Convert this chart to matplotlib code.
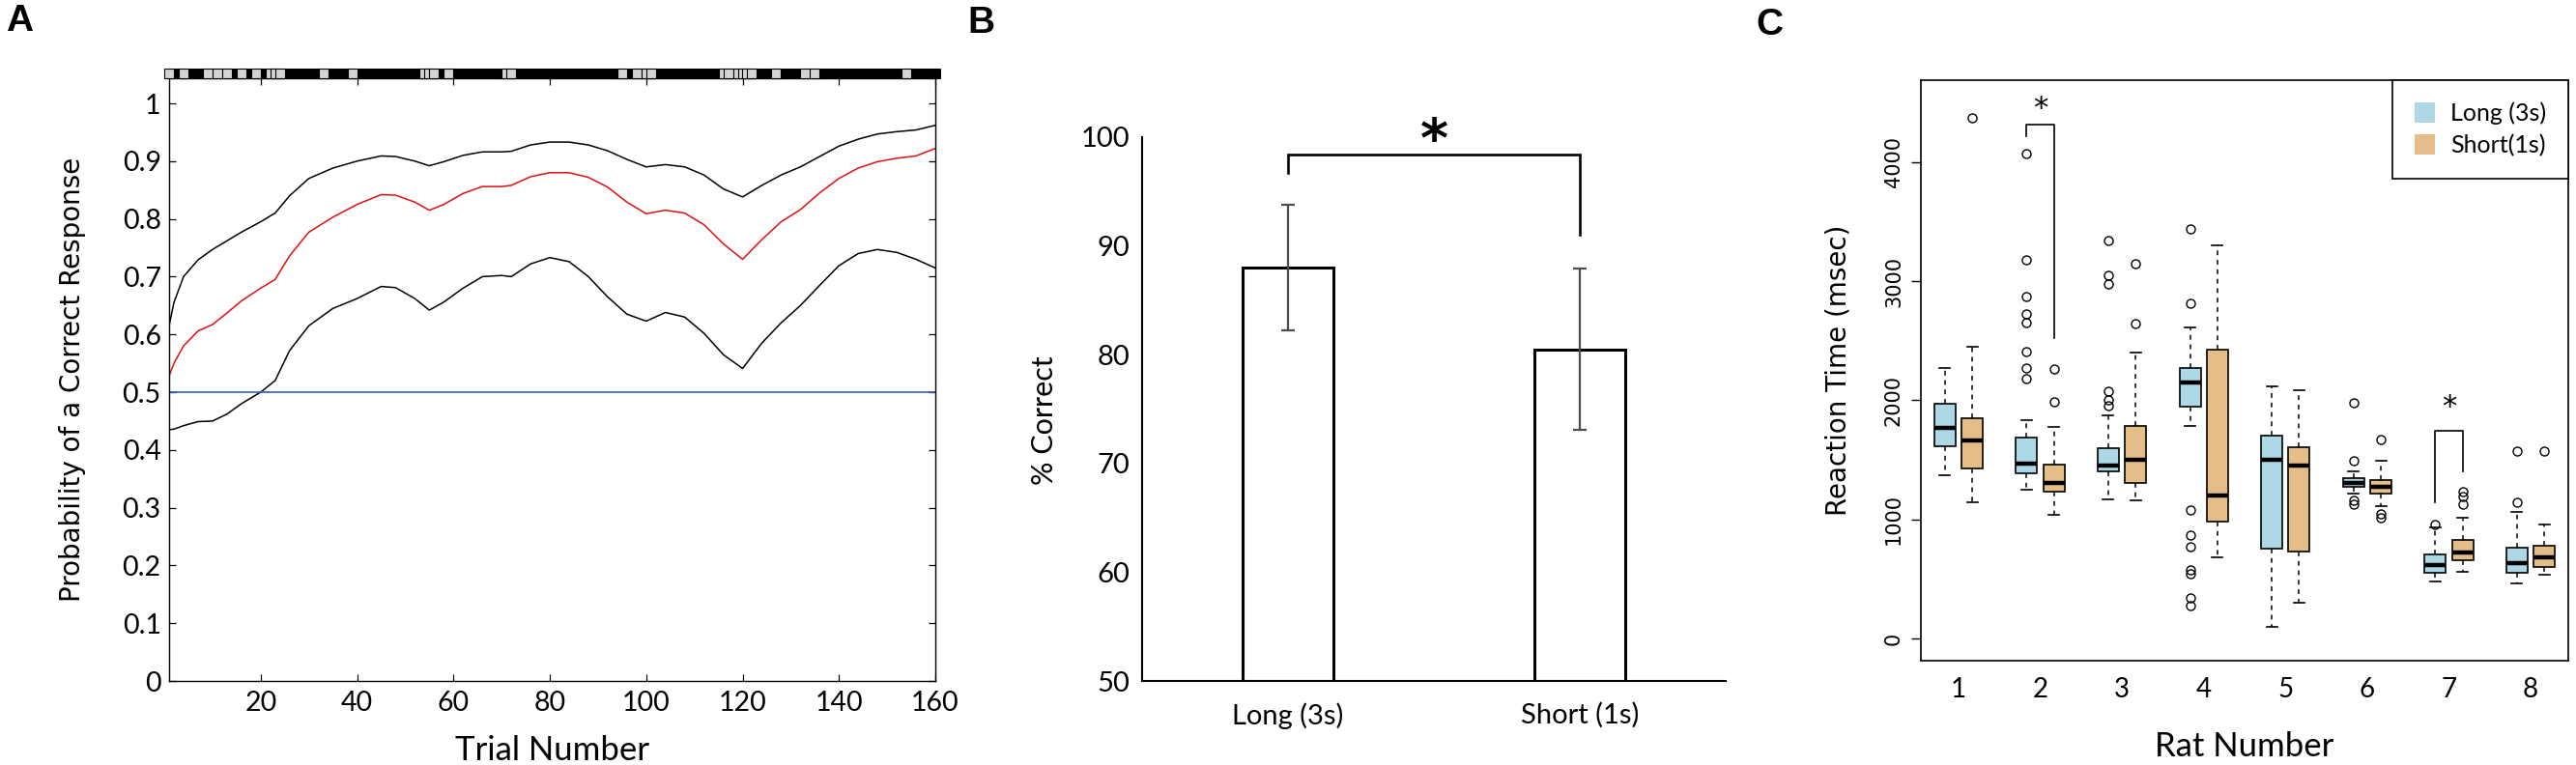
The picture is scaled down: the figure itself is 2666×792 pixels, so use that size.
import matplotlib
matplotlib.use("Agg")
import matplotlib.pyplot as plt
from matplotlib.patches import Patch

# ---------------- data ----------------
# Panel A: state-space learning curve
trials = [1, 2, 4, 7, 10, 13, 16, 20, 23, 26, 30, 35, 40, 45, 48, 52, 55, 58, 62, 66, 70, 72,
          76, 80, 84, 88, 92, 96, 100, 104, 108, 112, 116, 120, 124, 128, 132, 136, 140, 144,
          148, 152, 156, 160]
upper_ci = [0.615, 0.655, 0.700, 0.729, 0.747, 0.762, 0.777, 0.795, 0.810, 0.840, 0.870, 0.888,
            0.900, 0.909, 0.908, 0.900, 0.892, 0.899, 0.910, 0.916, 0.916, 0.917, 0.928, 0.933,
            0.933, 0.928, 0.918, 0.903, 0.890, 0.894, 0.890, 0.876, 0.852, 0.838, 0.858, 0.876,
            0.890, 0.908, 0.926, 0.938, 0.947, 0.951, 0.954, 0.962]
mean_p = [0.528, 0.550, 0.580, 0.606, 0.617, 0.637, 0.658, 0.680, 0.695, 0.736, 0.777, 0.803,
          0.825, 0.842, 0.841, 0.829, 0.815, 0.825, 0.844, 0.856, 0.856, 0.858, 0.873, 0.880,
          0.880, 0.872, 0.855, 0.829, 0.809, 0.815, 0.810, 0.790, 0.757, 0.730, 0.764, 0.795,
          0.816, 0.845, 0.870, 0.888, 0.899, 0.905, 0.909, 0.922]
lower_ci = [0.435, 0.436, 0.442, 0.449, 0.450, 0.462, 0.480, 0.500, 0.520, 0.572, 0.615, 0.645,
            0.662, 0.683, 0.681, 0.662, 0.642, 0.656, 0.680, 0.700, 0.702, 0.700, 0.722, 0.733,
            0.726, 0.700, 0.665, 0.635, 0.623, 0.638, 0.630, 0.602, 0.565, 0.541, 0.585, 0.620,
            0.650, 0.685, 0.719, 0.740, 0.747, 0.742, 0.730, 0.715]
chance_level = 0.5
n_trials = 160
incorrect_trials = [1, 4, 9, 11, 13, 16, 19, 22, 23, 24, 33, 39, 54, 55, 56, 59, 71, 72,
                    95, 98, 100, 101, 116, 117, 119, 120, 121, 122, 127, 133, 135, 154]

# Panel B: % correct
b_labels = ["Long (3s)", "Short (1s)"]
b_means = [88.0, 80.5]
b_err = [5.8, 7.4]
b_bracket = [96.7, 98.4, 91.0]   # left leg bottom, top, right leg bottom

# Panel C: reaction time box plots (whislo, q1, med, q3, whishi, fliers)
rats = [1, 2, 3, 4, 5, 6, 7, 8]
long_stats = [
    (1375, 1612, 1770, 1968, 2271, []),
    (1249, 1391, 1470, 1688, 1830, [4073, 3180, 2874, 2726, 2653, 2410, 2274, 2186]),
    (1170, 1407, 1454, 1596, 1871, [3338, 3047, 2975, 2076, 2006, 1959]),
    (1785, 1943, 2148, 2274, 2615, [3438, 2811, 1080, 870, 770, 575, 540, 345, 275]),
    (95, 754, 1498, 1707, 2114, []),
    (1220, 1274, 1303, 1344, 1407, [1981, 1489, 1160, 1130]),
    (476, 549, 618, 704, 934, [956]),
    (461, 555, 634, 760, 1060, [1577, 1148]),
]
short_stats = [
    (1145, 1429, 1659, 1849, 2448, [4372]),
    (1035, 1230, 1306, 1461, 1776, [2265, 1987]),
    (1164, 1306, 1502, 1785, 2401, [3148, 2644]),
    (681, 981, 1202, 2429, 3300, []),
    (303, 729, 1451, 1609, 2085, []),
    (1110, 1218, 1274, 1328, 1492, [1672, 1050, 1015]),
    (561, 656, 719, 830, 1013, [1233, 1192, 1129]),
    (539, 602, 681, 776, 959, [1577]),
]
c_sig = [(2, 4215, 4319, 2521, 4451), (7, 1145, 1744, 1401, 1943)]  # rat, left leg, top, right leg, star y
c_legend = ["Long (3s)", "Short(1s)"]

# ---------------- figure ----------------
W, H = 2666, 792
fig = plt.figure(figsize=(W / 100, H / 100), dpi=100)
CAL = ["Lato", "DejaVu Sans"]
VER = ["DejaVu Sans"]


def box(l, t, r, b):
    return [l / W, 1 - b / H, (r - l) / W, (b - t) / H]


# ---------- Panel A ----------
axA = fig.add_axes(box(175, 81, 968, 705))
axA.plot(trials, upper_ci, color="black", lw=1.1)
axA.plot(trials, lower_ci, color="black", lw=1.1)
axA.plot(trials, mean_p, color="#e01010", lw=1.1)
axA.axhline(chance_level, color="#2f5fbf", lw=1.2)
correct = [t for t in range(1, n_trials + 1) if t not in incorrect_trials]
axA.plot(correct, [1.052] * len(correct), ls="none", marker="s", ms=7.3, mfc="black",
         mec="black", mew=0.7, clip_on=False, zorder=5)
axA.plot(incorrect_trials, [1.052] * len(incorrect_trials), ls="none", marker="s", ms=7.3,
         mfc="#d4d4d4", mec="black", mew=0.8, clip_on=False, zorder=6)
axA.set_xlim(1, n_trials)
axA.set_ylim(0, 1.0435)
axA.set_yticks([i / 10 for i in range(11)])
axA.set_yticklabels(["0"] + [f"0.{i}" for i in range(1, 10)] + ["1"])
axA.set_xticks(range(20, 161, 20))
axA.tick_params(direction="in", top=True, right=True, length=5, width=0.9)
axA.tick_params(axis="y", pad=6)
axA.tick_params(axis="x", pad=7)
for lab in axA.get_xticklabels() + axA.get_yticklabels():
    lab.set_family(CAL)
    lab.set_fontsize(20.5)
for s in axA.spines.values():
    s.set_linewidth(1.0)
axA.set_xlabel("Trial Number", family=CAL, fontsize=25)
axA.xaxis.label.set_va("center")
axA.xaxis.set_label_coords(0.5, -0.115)
axA.set_ylabel("Probability of a Correct Response", family=VER, fontsize=20)
axA.yaxis.label.set_va("center")
axA.yaxis.set_label_coords(-0.126, 0.5)

# ---------- Panel B ----------
axB = fig.add_axes(box(1182, 142, 1786, 705))
xb = [0, 1]
axB.bar(xb, [m - 50 for m in b_means], bottom=50, width=0.313, color="white",
        edgecolor="black", linewidth=2.2, zorder=2)
axB.errorbar(xb, b_means, yerr=b_err, fmt="none", ecolor="#4d4d4d", elinewidth=1.6,
             capsize=5, capthick=1.6, zorder=3)
axB.plot([0, 0, 1, 1], [b_bracket[0], b_bracket[1], b_bracket[1], b_bracket[2]],
         color="black", lw=1.9, clip_on=False, solid_joinstyle="miter")
axB.text(0.5, 99.6, "*", ha="center", va="center", fontsize=40, fontweight="bold",
         family=VER, clip_on=False)
axB.set_xlim(-0.5, 1.5)
axB.set_ylim(50, 100)
axB.set_yticks(range(50, 101, 10))
axB.set_xticks(xb)
axB.set_xticklabels(b_labels)
axB.tick_params(length=0)
axB.tick_params(axis="y", pad=9)
axB.tick_params(axis="x", pad=16)
for lab in axB.get_xticklabels() + axB.get_yticklabels():
    lab.set_family(CAL)
    lab.set_fontsize(21)
axB.spines["top"].set_visible(False)
axB.spines["right"].set_visible(False)
for s in ("left", "bottom"):
    axB.spines[s].set_linewidth(1.5)
axB.set_ylabel("% Correct", family=CAL, fontsize=22)
axB.yaxis.label.set_va("center")
axB.yaxis.set_label_coords(-0.167, 0.48)

# ---------- Panel C ----------
axC = fig.add_axes(box(1988, 83, 2658, 684))
col_long = "#add8e6"
col_short = "#e4bd89"


def to_bxp(st):
    return dict(whislo=st[0], q1=st[1], med=st[2], q3=st[3], whishi=st[4], fliers=st[5])


common = dict(widths=0.26, capwidths=0.13, patch_artist=True, showfliers=True,
              whiskerprops=dict(linestyle=(0, (3.2, 3.2)), linewidth=1.1, color="black"),
              capprops=dict(linewidth=1.2, color="black"),
              medianprops=dict(linewidth=3.2, color="black", solid_capstyle="butt"),
              flierprops=dict(marker="o", markerfacecolor="none", markeredgecolor="black",
                              markersize=6.5, markeredgewidth=1.0))
bl = axC.bxp([to_bxp(s) for s in long_stats], positions=[r - 0.167 for r in rats],
             boxprops=dict(facecolor=col_long, edgecolor="black", linewidth=1.2), **common)
bs = axC.bxp([to_bxp(s) for s in short_stats], positions=[r + 0.167 for r in rats],
             boxprops=dict(facecolor=col_short, edgecolor="black", linewidth=1.2), **common)
for rat, lo_l, top, lo_r, sy in c_sig:
    axC.plot([rat - 0.167, rat - 0.167, rat + 0.167, rat + 0.167], [lo_l, top, top, lo_r],
             color="black", lw=1.2)
    axC.text(rat, sy, "*", ha="center", va="center", fontsize=22, family=VER)
axC.set_xlim(0.54, 8.46)
axC.set_ylim(-186, 4688)
axC.set_xticks(rats)
axC.set_xticklabels([str(r) for r in rats])
axC.set_yticks([0, 1000, 2000, 3000, 4000])
axC.tick_params(axis="x", length=0, pad=12)
axC.tick_params(axis="y", direction="out", length=7, width=1.0, pad=6)
for lab in axC.get_xticklabels():
    lab.set_family(CAL)
    lab.set_fontsize(20)
for lab in axC.get_yticklabels():
    lab.set_family(VER)
    lab.set_fontsize(15)
    lab.set_rotation(90)
    lab.set_va("center")
for s in axC.spines.values():
    s.set_linewidth(1.2)
axC.set_xlabel("Rat Number", family=CAL, fontsize=25)
axC.xaxis.label.set_va("center")
axC.xaxis.set_label_coords(0.5, -0.148)
axC.set_ylabel("Reaction Time (msec)", family=VER, fontsize=20)
axC.yaxis.label.set_va("center")
axC.yaxis.set_label_coords(-0.128, 0.5)
handles = [Patch(facecolor=col_long, edgecolor="none"), Patch(facecolor=col_short, edgecolor="none")]
leg = axC.legend(handles, c_legend, loc="upper right", borderaxespad=0, fancybox=False,
                 prop=dict(family=CAL, size=18), handlelength=0.85, handleheight=0.9,
                 handletextpad=0.65, labelspacing=0.4, borderpad=0.9, framealpha=1)
leg.get_frame().set_edgecolor("black")
leg.get_frame().set_linewidth(1.2)

# ---------- panel letters ----------
for x, y, s in [(6, 4, "A"), (1001, 6, "B"), (1817, 8, "C")]:
    fig.text(x / W, 1 - y / H, s, ha="left", va="top", fontsize=28, fontweight="bold",
             family=["Liberation Sans", "DejaVu Sans"])

fig.savefig("out.png", dpi=100, facecolor="white")
